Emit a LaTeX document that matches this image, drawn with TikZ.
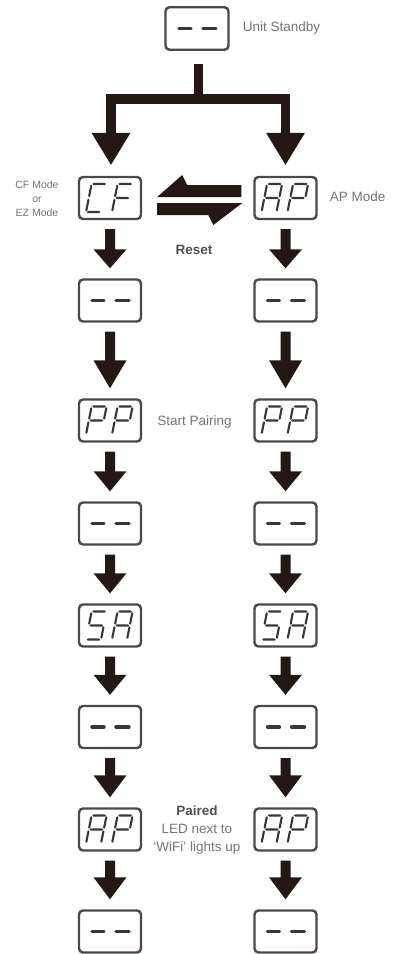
\documentclass[tikz,border=0pt]{standalone}
\usepackage{fontspec}
\setmainfont{Liberation Sans}
\usetikzlibrary{calc}
\definecolor{arr}{HTML}{231815}
\definecolor{boxc}{HTML}{4D4846}
\definecolor{glyph}{HTML}{3A3636}
\definecolor{lbl}{HTML}{747474}
\definecolor{lbld}{HTML}{505050}
% seven-segment letters (origin = bottom-left of the cell, y downwards)
\newcommand\ltrC{\draw[seg] (1.8,-28)--(13.2,-28) (0,-26.2)--(0,-15.8) (0,-12.2)--(0,-1.8) (1.8,0)--(13.2,0);}
\newcommand\ltrF{\draw[seg] (1.8,-28)--(13.2,-28) (0,-26.2)--(0,-15.8) (0,-12.2)--(0,-1.8) (1.8,-14)--(13.2,-14);}
\newcommand\ltrA{\draw[seg] (1.8,-28)--(13.2,-28) (15,-26.2)--(15,-15.8) (15,-12.2)--(15,-1.8) (0,-12.2)--(0,-1.8) (0,-26.2)--(0,-15.8) (1.8,-14)--(13.2,-14);}
\newcommand\ltrP{\draw[seg] (1.8,-28)--(13.2,-28) (15,-26.2)--(15,-15.8) (0,-12.2)--(0,-1.8) (0,-26.2)--(0,-15.8) (1.8,-14)--(13.2,-14);}
\newcommand\ltrS{\draw[seg] (1.8,-28)--(13.2,-28) (0,-26.2)--(0,-15.8) (1.8,-14)--(13.2,-14) (15,-12.2)--(15,-1.8) (1.8,0)--(13.2,0);}
\newcommand\glyph[3]{\begin{scope}[shift={($(#1.center)+(#2,14)$)},xslant=0.2]#3\end{scope}}
\newcommand\twoglyph[3]{\glyph{#1}{-24}{#2}\glyph{#1}{2}{#3}}
\newcommand\dashes[1]{\draw[dsh] ($(#1.center)+(-18,0)$) -- ($(#1.center)+(-6,0)$) ($(#1.center)+(6,0)$) -- ($(#1.center)+(19,0)$);}
\newcommand\varr[3]{\fill[arr] ($(#1.south)+(-5,9)$) -- ($(#2.north)+(-5,-10-#3)$) -- ($(#2.north)+(-16.5,-10-#3)$) -- ($(#2.north)+(0,-10)$) -- ($(#2.north)+(16.5,-10-#3)$) -- ($(#2.north)+(5,-10-#3)$) -- ($(#1.south)+(5,9)$) -- cycle;}
\begin{document}
\begin{tikzpicture}[x=1pt,y=-1pt,
  disp/.style={draw=boxc, line width=2.4pt, rounded corners=4pt, minimum width=62pt, minimum height=42pt, inner sep=0pt, fill=white},
  seg/.style={draw=glyph, line width=2.1pt, line cap=round},
  dsh/.style={draw=glyph, line width=3.4pt, line cap=round},
  lab/.style={text=lbl, font=\fontsize{13.5}{18}\selectfont, inner sep=0pt},
  branchline/.style={draw=arr, line width=9.5pt, line join=miter}]
\fill[white] (0,0) rectangle (393,954);
\useasboundingbox (0,0) rectangle (393,954);
% boxes
\node[disp, minimum width=63pt, minimum height=42.5pt] (top) at (197,28.5) {};
\foreach \n/\y in {1/198,2/300.5,3/420.5,4/523.5,5/625.5,6/727,7/829.5,8/931.5}{
  \node[disp] (L\n) at (110,\y) {};
  \node[disp] (R\n) at (285.5,\y) {};
}
% glyphs
\dashes{top}
\twoglyph{L1}{\ltrC}{\ltrF}
\twoglyph{R1}{\ltrA}{\ltrP}
\twoglyph{L3}{\ltrP}{\ltrP}
\twoglyph{R3}{\ltrP}{\ltrP}
\twoglyph{L5}{\ltrS}{\ltrA}
\twoglyph{R5}{\ltrS}{\ltrA}
\twoglyph{L7}{\ltrA}{\ltrP}
\twoglyph{R7}{\ltrA}{\ltrP}
\foreach \n in {2,4,6,8}{\dashes{L\n}\dashes{R\n}}
% branch from standby
\draw[branchline] ($(top.south)+(1.5,13)$) -- ($(top.south)+(1.5,47)$);
\draw[branchline] ($(L1.north)+(1,-42)$) -- ($(L1.north)+(1,-77)$) -- ($(R1.north)+(0,-77)$) -- ($(R1.north)+(0,-42)$);
\fill[arr] ($(L1.north)+(-18.5,-43)$) -- ($(L1.north)+(1,-11)$) -- ($(L1.north)+(20.5,-43)$) -- cycle;
\fill[arr] ($(R1.north)+(-19.5,-43)$) -- ($(R1.north)+(0,-11)$) -- ($(R1.north)+(19.5,-43)$) -- cycle;
% harpoons (reset)
\fill[arr] ($(L1.east)+(15,-1)$) -- ($(L1.east)+(40,-23)$) -- ($(L1.east)+(45,-13)$) -- ($(R1.west)+(-12,-13)$) -- ($(R1.west)+(-12,-1)$) -- cycle;
\fill[arr] ($(R1.west)+(-11,5)$) -- ($(R1.west)+(-40,27)$) -- ($(R1.west)+(-45,17)$) -- ($(L1.east)+(15,17)$) -- ($(L1.east)+(15,5)$) -- cycle;
% column arrows
\foreach \s in {L,R}{
  \varr{\s1}{\s2}{19}
  \varr{\s2}{\s3}{28}
  \varr{\s3}{\s4}{20}
  \varr{\s4}{\s5}{20}
  \varr{\s5}{\s6}{20}
  \varr{\s6}{\s7}{22}
  \varr{\s7}{\s8}{22}
}
% labels
\node[lab, anchor=west] (tstandby) at ($(top.east)+(13,0)$) {Unit Standby};
\node[lab, anchor=west] (tap) at ($(R1.east)+(12,-1)$) {AP Mode};
\node[lab, align=center, font=\fontsize{10.5}{14}\selectfont] (tcf) at (37,199) {CF Mode\\or\\EZ Mode};
\node[lab, text=lbld, font=\bfseries\fontsize{13.5}{16}\selectfont] (treset) at (194,250) {Reset};
\node[lab, anchor=west] (tpair) at ($(L3.east)+(15,1.5)$) {Start Pairing};
\node[lab, align=center] (tpaired) at (197,830) {{\bfseries\color{lbld}Paired}\\LED next to\\‘WiFi’ lights up};
\end{tikzpicture}
\end{document}
